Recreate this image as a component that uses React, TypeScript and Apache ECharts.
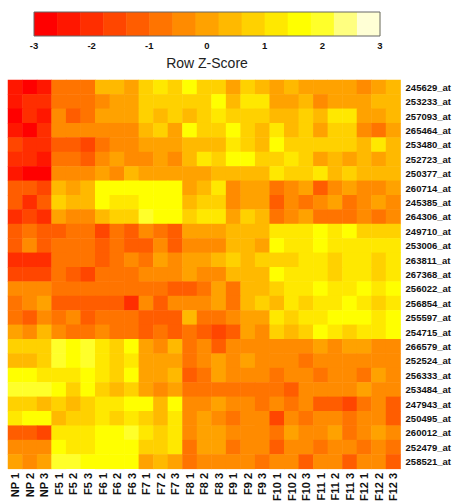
import React, { useEffect, useRef } from "react";
import * as echarts from "echarts";

const colLabels = [
  "NP 1", "NP 2", "NP 3", "F5 1", "F5 2", "F5 3", "F6 1", "F6 2", "F6 3",
  "F7 1", "F7 2", "F7 3", "F8 1", "F8 2", "F8 3", "F9 1", "F9 2", "F9 3",
  "F10 1", "F10 2", "F10 3", "F11 1", "F11 2", "F11 3", "F12 1", "F12 2", "F12 3",
];

const rowLabels = [
  "245629_at", "253233_at", "257093_at", "265464_at", "253480_at", "252723_at",
  "250377_at", "260714_at", "245385_at", "264306_at", "249710_at", "253006_at",
  "263811_at", "267368_at", "256022_at", "256854_at", "255597_at", "254715_at",
  "266579_at", "252524_at", "256333_at", "253484_at", "247943_at", "250495_at",
  "260012_at", "252479_at", "258521_at",
];

// Row Z-scores, one array per probe (row), columns in colLabels order
const r245629 = [-2.4,-2.8,-2.4,-0.8,-0.8,-0.8,0.4,0.4,0,0.8,1.2,0.8,1.6,0.8,0.8,0,0.8,0.4,0,0.4,0,0,0,0,-0.4,0,0.4];
const r253233 = [-2.4,-2,-2,-0.8,-0.8,-0.8,-0.4,0,0,0.8,0.8,0.8,0.8,0.8,1.6,0.4,1.2,1.2,0,0,0.4,-0.4,0,0,0,0.4,0.4];
const r257093 = [-2.8,-2,-2.4,-0.4,-1.2,-0.8,0,0,0,0.8,0.4,0.8,0.4,0.8,1.2,0.8,0.8,0.8,0.4,0.4,0.8,0.4,1.2,1.2,0,0,0.4];
const r265464 = [-2.4,-2.8,-2,-0.4,-0.4,-0.4,-0.4,-0.4,-0.4,0.4,0.8,0,1.6,0.8,0.8,1.6,0.8,0.4,1.2,0.4,0.8,0,0.8,0.8,-0.4,-0.8,0];
const r253480 = [-1.6,-2,-2,-1.2,-1.2,-1.6,-0.8,-0.4,-0.4,0,0,0,0.4,0.4,0.4,1.2,0.8,0.4,1.6,0.8,0.8,0.8,0.8,0.8,0.4,1.2,0.4];
const r252723 = [-2,-2,-2.4,-0.8,-0.8,-1.2,-0.4,0,-0.4,-0.4,0,-0.4,0.4,1.2,0.8,1.6,1.6,0.8,0.8,1.2,0.8,0,0.4,0,0.4,0,0.4];
const r250377 = [-2.4,-2.8,-2.8,-0.4,-0.4,-0.4,0,-0.4,0.4,0,0,0,0,0,0.4,0.4,0.4,0.4,1.2,0.8,0.8,1.2,0.4,0.8,0.4,0.4,0.4];
const r260714 = [-1.2,-1.2,-1.6,0.4,0,0.4,1.6,1.6,1.6,1.6,1.6,1.6,0,0.4,1.2,-0.4,0,0,-0.8,-0.4,0,-1.2,-0.4,0,-0.4,-0.4,0];
const r245385 = [-1.2,-2,-1.2,0.8,0.4,0.4,1.6,1.2,1.2,1.6,1.6,1.6,0.4,0.8,0.8,-0.4,0,0,-1.2,-0.4,-0.8,-0.4,0,-0.8,-0.4,0,-0.4];
const r264306 = [-2,-1.6,-2,0,-0.4,-0.4,0.4,0.8,0.8,2,1.6,1.6,0.8,1.2,1.2,0,0.8,0.4,-0.8,-0.4,0,-0.8,-0.8,-0.8,-0.4,-0.8,-0.4];
const r249710 = [-1.2,-0.8,-1.2,-1.2,-0.8,-0.8,-1.6,-0.8,-1.2,-0.4,-0.8,-1.2,0,0,0,0.4,0.4,0.4,1.2,1.2,1.2,1.6,1.2,1.6,0.8,0.8,0.8];
const r253006 = [-1.2,-0.4,-1.2,-0.8,-0.8,-0.8,-1.2,-0.8,-1.2,-1.2,-0.4,-1.2,-0.4,-0.4,-0.4,0.4,0.4,0,1.6,1.2,1.2,1.6,1.2,1.2,1.2,1.2,1.2];
const r263811 = [-2,-2,-2,-0.8,-0.8,-0.8,-1.2,-0.8,-0.4,-0.8,0,-0.4,0,0,0.4,0.8,0.4,0.8,0.8,0.8,1.2,1.2,0.8,1.2,1.2,0.8,1.2];
const r267368 = [-1.6,-1.6,-1.6,-0.8,-1.2,-1.6,-0.8,-0.8,-0.8,-0.4,-0.4,-0.4,0,-0.4,-0.4,0.4,0.4,0.4,1.6,1.2,1.2,1.2,0.8,1.2,1.2,0.8,1.2];
const r256022 = [-0.4,-0.4,-0.4,-0.8,-0.8,-0.8,-0.8,-0.8,-0.8,-0.8,-0.8,-1.2,-1.2,-0.8,0,-0.8,0.4,0.4,0.8,1.2,1.2,1.6,1.2,1.2,1.6,1.2,1.6];
const r256854 = [-0.8,-0.4,0,-1.2,-1.2,-1.2,-1.2,-1.2,-2,-0.4,-1.2,-0.4,-0.4,-0.4,0,-0.8,0.4,0.8,0.4,1.2,0.8,1.2,1.2,1.6,1.2,0.8,1.2];
const r255597 = [-0.8,-1.2,-0.4,-0.8,-0.4,-1.2,-0.8,-0.8,-0.8,-1.2,-1.2,-1.2,0.4,-0.8,-0.8,-0.4,0,0,1.2,0.8,1.2,1.2,1.6,1.6,1.6,1.2,1.6];
const r254715 = [0,-0.4,0.4,-0.4,-0.8,-0.8,-0.4,-0.8,-0.8,-1.2,-0.8,-1.2,-0.8,-1.2,-1.6,-1.2,0,-0.4,0.8,0.4,0.8,1.6,1.2,0.8,1.2,1.2,1.6];
const r266579 = [0.8,0.8,0.8,2,1.6,2,1.2,0.8,1.6,0,-0.4,0.4,-0.8,-0.4,-1.2,-0.4,-0.4,-0.4,-0.4,-0.4,-0.4,0,-0.4,0,0,-0.4,-0.4];
const r252524 = [0.4,0.4,0.8,2,1.6,2,1.2,0.8,1.2,0,0,0,-0.8,-0.4,0,-0.4,0,-0.4,-0.4,-0.4,-0.8,-0.4,-0.4,-0.4,-0.4,-0.4,-0.4];
const r256333 = [1.6,1.6,1.2,1.2,1.2,1.6,1.2,0.8,1.6,0,0,0.4,-1.2,-0.8,0,-0.4,-0.4,-0.4,-0.8,-0.4,-0.4,-0.8,-0.4,-0.4,-0.8,0,-0.4];
const r253484 = [2,2,2,1.6,0.8,1.6,0.8,0.4,0.8,0,-0.4,0,-0.8,-0.8,-0.8,-0.8,-0.8,-0.8,-0.8,-1.2,-0.4,-0.4,-0.4,-0.4,0,-0.4,-0.4];
const r247943 = [0.8,0.8,0.4,0.8,0.4,0.8,1.2,1.2,1.6,1.6,0.4,1.6,-0.4,-0.4,0,-0.4,-0.4,-0.8,-0.4,-0.8,-0.4,-1.2,-1.2,-1.6,-0.8,-0.4,-1.2];
const r250495 = [1.2,1.6,1.6,0.4,0.8,0.8,1.2,0.8,1.2,0.8,0.4,1.2,-0.4,0,-0.4,-0.8,-0.4,-0.4,-1.6,-0.4,-0.8,-0.4,-0.4,-0.8,-0.4,-0.4,-1.2];
const r260012 = [-1.2,-1.2,-1.6,1.2,1.2,1.2,1.6,1.6,2,1.2,0.8,1.2,-0.4,0,0,-0.4,-0.4,-0.4,-0.8,0,-0.4,-0.4,0,-0.8,-0.4,0,-0.4];
const r252479 = [-0.4,-0.4,-0.4,1.6,1.2,1.2,1.6,1.6,1.6,0.8,0.8,1.2,-0.8,0,0,-0.8,-0.4,-0.4,-1.2,-0.4,-0.4,-0.8,-0.4,-0.4,-0.8,-0.4,-0.8];
const r258521 = [0,-0.4,0,2,2,1.6,1.6,1.6,1.6,0,0.4,0,-0.8,-0.4,-0.4,-0.4,-0.4,-0.8,-0.4,-0.4,-1.2,-0.4,-0.4,-1.2,-0.4,-0.4,-1.2];

const rowValues = [
  r245629, r253233, r257093, r265464, r253480, r252723, r250377, r260714, r245385,
  r264306, r249710, r253006, r263811, r267368, r256022, r256854, r255597, r254715,
  r266579, r252524, r256333, r253484, r247943, r250495, r260012, r252479, r258521,
];

// Colour key: 15 bins of the z-score range (heat colours)
const keyBreaks = [-3, -2.6, -2.2, -1.8, -1.4, -1, -0.6, -0.2, 0.2, 0.6, 1, 1.4, 1.8, 2.2, 2.6, 3];
const heatColors = [
  "#FF0000", "#FF1700", "#FF2E00", "#FF4600", "#FF5D00", "#FF7400", "#FF8B00", "#FFA200",
  "#FFB900", "#FFD100", "#FFE800", "#FFFF00", "#FFFF2A", "#FFFF80", "#FFFFD5",
];

const FONT = "'Liberation Sans', Arial, Helvetica, sans-serif";

// layout
const HM = { left: 8, top: 80, width: 394, height: 392 };
const KEY = { left: 34, top: 12, width: 346, height: 24 };

export default function App() {
  const ref = useRef<HTMLDivElement>(null);

  useEffect(() => {
    if (!ref.current) return;
    const chart = echarts.init(ref.current, undefined, { renderer: "svg" });

    const hmData: number[][] = [];
    rowValues.forEach((row, ri) => {
      row.forEach((v, ci) => hmData.push([ci, ri, v]));
    });

    const keyData = heatColors.map((_, i) => [keyBreaks[i], keyBreaks[i + 1], i]);

    const pieces: any[] = heatColors.map((c, i) => ({
      gte: keyBreaks[i],
      lt: keyBreaks[i + 1],
      color: c,
    }));
    pieces[pieces.length - 1] = { gte: keyBreaks[14], lte: keyBreaks[15], color: heatColors[14] };

    chart.setOption({
      animation: false,
      backgroundColor: "#ffffff",
      textStyle: { fontFamily: FONT },
      grid: [
        { left: HM.left, top: HM.top, width: HM.width, height: HM.height, containLabel: false },
        { left: KEY.left, top: KEY.top, width: KEY.width, height: KEY.height, containLabel: false },
      ],
      xAxis: [
        {
          type: "category",
          gridIndex: 0,
          data: colLabels,
          position: "bottom",
          axisLine: { show: false },
          axisTick: { show: false },
          splitLine: { show: false },
          axisLabel: {
            interval: 0,
            rotate: 90,
            margin: 4,
            fontSize: 11,
            fontWeight: "bold",
            color: "#111",
            fontFamily: FONT,
          },
        },
        {
          type: "value",
          gridIndex: 1,
          min: -3,
          max: 3,
          interval: 1,
          axisLine: { show: false },
          axisTick: { show: false },
          splitLine: { show: false },
          axisLabel: {
            margin: 4,
            fontSize: 9.5,
            fontWeight: "bold",
            color: "#111",
            fontFamily: FONT,
          },
          name: "Row Z-Score",
          nameLocation: "middle",
          nameGap: 20,
          nameTextStyle: { fontSize: 14, color: "#222", fontFamily: FONT },
        },
      ],
      yAxis: [
        {
          type: "category",
          gridIndex: 0,
          data: rowLabels,
          inverse: true,
          position: "right",
          axisLine: { show: false },
          axisTick: { show: false },
          splitLine: { show: false },
          axisLabel: {
            interval: 0,
            margin: 5,
            fontSize: 9.5,
            fontWeight: "bold",
            color: "#111",
            fontFamily: FONT,
          },
        },
        {
          type: "value",
          gridIndex: 1,
          min: 0,
          max: 1,
          show: false,
        },
      ],
      visualMap: {
        type: "piecewise",
        show: false,
        seriesIndex: 0,
        dimension: 2,
        pieces,
      },
      series: [
        {
          type: "heatmap",
          xAxisIndex: 0,
          yAxisIndex: 0,
          data: hmData,
          itemStyle: { borderWidth: 0 },
          emphasis: { disabled: true },
        },
        {
          type: "custom",
          xAxisIndex: 1,
          yAxisIndex: 1,
          data: keyData,
          encode: { x: [0, 1] },
          renderItem: (params: any, api: any) => {
            const p0 = api.coord([api.value(0), 1]);
            const p1 = api.coord([api.value(1), 0]);
            return {
              type: "rect",
              shape: { x: p0[0], y: p0[1], width: p1[0] - p0[0] + 0.5, height: p1[1] - p0[1] },
              style: { fill: heatColors[api.value(2)] },
            };
          },
        },
      ],
      graphic: [
        {
          type: "rect",
          z: 100,
          shape: { x: KEY.left, y: KEY.top, width: KEY.width, height: KEY.height },
          style: { fill: "none", stroke: "#666", lineWidth: 1 },
        },
      ],
    });

    return () => chart.dispose();
  }, []);

  return (
    <div
      ref={ref}
      style={{ position: "fixed", left: 0, top: 0, width: 454, height: 504, background: "#fff" }}
    />
  );
}
